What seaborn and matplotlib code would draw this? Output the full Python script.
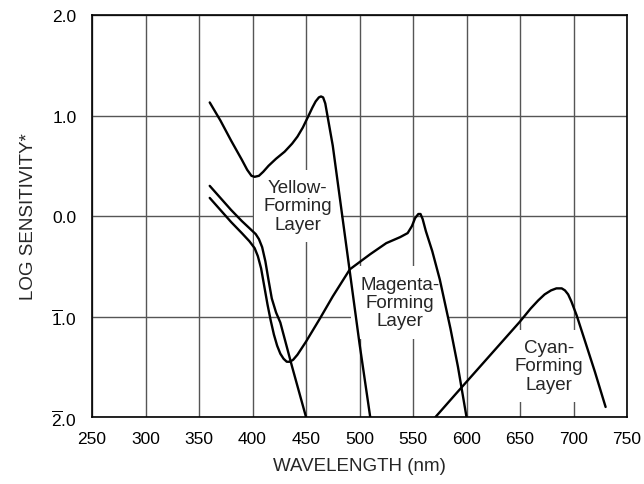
import pandas as pd
import matplotlib
matplotlib.use("Agg")
import matplotlib.pyplot as plt
import seaborn as sns

# ## Curve data (wavelength nm, log sensitivity)
yellow_nm = [360, 370, 380, 390, 395, 399, 402, 406, 410, 415, 422, 430, 437, 442, 447, 452, 456, 459, 462, 464, 466,
             468, 470, 475, 483, 491, 500, 510]
yellow_log = [1.13, 0.95, 0.75, 0.56, 0.46, 0.40, 0.39, 0.40, 0.44, 0.50, 0.57, 0.64, 0.72, 0.79, 0.88, 0.99, 1.08, 1.14,
              1.18, 1.19, 1.18, 1.12, 1.00, 0.70, 0.07, -0.56, -1.27, -2.0]

inner_nm = [360, 370, 380, 390, 398, 403, 406, 409, 412, 415, 418, 422, 426, 437, 450]
inner_log = [0.30, 0.18, 0.06, -0.05, -0.13, -0.18, -0.23, -0.31, -0.45, -0.64, -0.82, -0.96, -1.06, -1.50, -2.0]

magenta_nm = [360, 370, 380, 390, 397, 402, 405, 408, 411, 414, 417, 420, 423, 426, 429, 432, 435, 438, 442, 450, 463, 475,
              491, 510, 525, 538, 545, 549, 552, 555, 557, 559, 562, 568, 575, 585, 592, 600]
magenta_log = [0.18, 0.06, -0.06, -0.17, -0.25, -0.32, -0.40, -0.52, -0.70, -0.88, -1.04, -1.18, -1.29, -1.37, -1.42, -1.45,
               -1.45, -1.43, -1.38, -1.25, -1.02, -0.80, -0.53, -0.38, -0.27, -0.21, -0.17, -0.10, -0.02, 0.02, 0.02,
               -0.03, -0.15, -0.35, -0.63, -1.12, -1.50, -2.0]

cyan_nm = [571, 590, 610, 630, 650, 660, 667, 673, 679, 684, 689, 692, 695, 698, 703, 710, 720, 730]
cyan_log = [-2.0, -1.77, -1.53, -1.29, -1.05, -0.92, -0.84, -0.78, -0.74, -0.72, -0.72, -0.74, -0.78, -0.85, -0.99, -1.22,
            -1.55, -1.90]

curves = {
    'yellow': (yellow_nm, yellow_log),
    'inner': (inner_nm, inner_log),
    'magenta': (magenta_nm, magenta_log),
    'cyan': (cyan_nm, cyan_log),
}

# layer labels: (text, x, y)
layer_labels = [
    ('Yellow-\nForming\nLayer', 442, 0.10),
    ('Magenta-\nForming\nLayer', 538, -0.86),
    ('Cyan-\nForming\nLayer', 677, -1.49),
]

x_ticks = list(range(250, 751, 50))
y_ticks = [2, 1, 0, -1, -2]
y_tick_labels = ['2.0', '1.0', '0.0', r'$\mathregular{\overline{1}}$.0', r'$\mathregular{\overline{2}}$.0']

sns.set_style('white')
plt.rcParams['font.family'] = ['Liberation Sans', 'DejaVu Sans']
plt.rcParams['mathtext.fontset'] = 'custom'
plt.rcParams['mathtext.rm'] = 'Liberation Sans'

fig = plt.figure(figsize=(6.44, 4.85), dpi=100)
ax = fig.add_axes([0.1429, 0.1381, 0.8307, 0.8289])

for name, (xs, ys) in curves.items():
    df = pd.DataFrame({'nm': xs, 'log': ys})
    sns.lineplot(data=df, x='nm', y='log', sort=False, estimator=None,
                 color='black', linewidth=1.7, ax=ax, zorder=3)

for text, x, y in layer_labels:
    ax.text(x, y, text, ha='center', va='center', fontsize=13.5, linespacing=1.1,
            zorder=2, bbox=dict(boxstyle='square,pad=0.5', facecolor='white', edgecolor='none'))

ax.set_xlim(250, 750)
ax.set_ylim(-2, 2)
ax.set_xticks(x_ticks)
ax.set_yticks(y_ticks)
ax.set_yticklabels(y_tick_labels)
ax.grid(True, color='#555555', linewidth=1.0)
ax.set_axisbelow(True)
ax.tick_params(axis='both', length=0, labelsize=12.5, colors='black')
ax.tick_params(axis='y', pad=11)
ax.tick_params(axis='x', pad=10)
for s in ax.spines.values():
    s.set_color('black')
    s.set_linewidth(1.2)

ax.set_xlabel('WAVELENGTH (nm)', fontsize=13.5, labelpad=8)
ax.set_ylabel('LOG SENSITIVITY*', fontsize=13.5, labelpad=10)

fig.savefig('out.png', dpi=100)
